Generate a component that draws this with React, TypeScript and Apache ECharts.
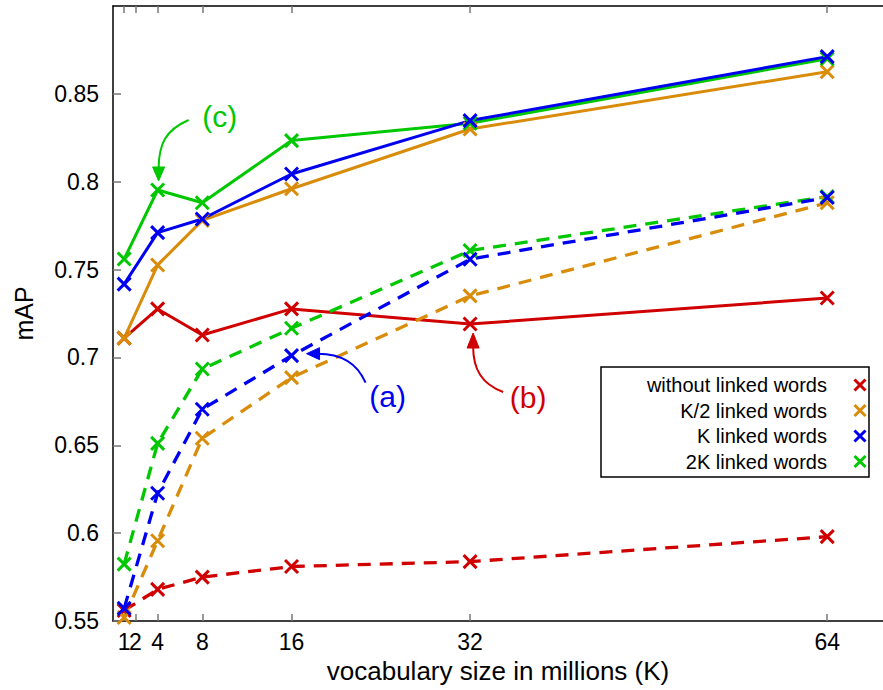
import React, { useEffect, useRef } from "react";
import * as echarts from "echarts";

const X_VALUES = [1, 4, 8, 16, 32, 64];
const X_TICKS = [1, 2, 4, 8, 16, 32, 64];
const X_LABELS_MAIN = [1, 4, 8, 16, 32, 64];
const X_LABELS_EXTRA = [2];
const Y_TICKS = [0.55, 0.6, 0.65, 0.7, 0.75, 0.8, 0.85];

const SERIES_NAMES = ["without linked words", "K/2 linked words", "K linked words", "2K linked words"];
const COLORS = ["#d00000", "#d98c0a", "#0000f0", "#00c800"];

// solid = one setting, dashed = other setting
const RED_SOLID = [0.711, 0.7276, 0.7128, 0.7276, 0.719, 0.7338];
const RED_DASHED = [0.556, 0.568, 0.575, 0.581, 0.5838, 0.598];
const ORANGE_SOLID = [0.711, 0.7526, 0.778, 0.796, 0.83, 0.8626];
const ORANGE_DASHED = [0.552, 0.5957, 0.654, 0.6885, 0.735, 0.788];
const BLUE_SOLID = [0.7417, 0.771, 0.7788, 0.8044, 0.8348, 0.8712];
const BLUE_DASHED = [0.5572, 0.6227, 0.6705, 0.701, 0.7559, 0.791];
const GREEN_SOLID = [0.756, 0.7953, 0.788, 0.8234, 0.8333, 0.87];
const GREEN_DASHED = [0.5824, 0.6511, 0.6934, 0.7166, 0.7608, 0.7915];

const FONT = "'Liberation Sans', Arial, Helvetica, sans-serif";
const CROSS = "path://M0 0L10 10M10 0L0 10";

function mkSeries(name: string, color: string, values: number[], dashed: boolean) {
  return {
    type: "line",
    name,
    data: X_VALUES.map((x, i) => [x, values[i]]),
    symbol: CROSS,
    symbolSize: 13,
    showSymbol: true,
    lineStyle: { color, width: dashed ? 3.3 : 3, type: dashed ? [13, 9] : "solid", cap: "butt" },
    itemStyle: { color, borderColor: color, borderWidth: 3 },
    emphasis: { disabled: true },
    z: 3,
  };
}

export default function App() {
  const ref = useRef<HTMLDivElement>(null);
  useEffect(() => {
    document.body.style.margin = "0";
    const chart = echarts.init(ref.current!, undefined, { renderer: "svg" });
    const axisCommon = {
      type: "value",
      min: 0,
      max: 69,
      splitLine: { show: false },
    };
    const labelStyle = {
      margin: 9,
      fontFamily: FONT,
      fontSize: 23,
      color: "#000",
      hideOverlap: false,
      showMinLabel: true,
      showMaxLabel: true,
    };
    const option: any = {
      animation: false,
      grid: { left: 113, top: 6, right: 0, bottom: 69 },
      xAxis: [
        {
          ...axisCommon,
          position: "bottom",
          name: "vocabulary size in millions (K)",
          nameLocation: "middle",
          nameGap: 37,
          nameTextStyle: { fontFamily: FONT, fontSize: 26, color: "#000" },
          axisLine: { show: true, onZero: false, lineStyle: { color: "#000", width: 1.5 } },
          axisTick: { show: true, inside: true, length: 7, customValues: X_TICKS, lineStyle: { color: "#777", width: 1.5 } },
          axisLabel: { show: true, customValues: X_LABELS_MAIN, ...labelStyle },
        },
        {
          ...axisCommon,
          position: "top",
          axisLine: { show: true, onZero: false, lineStyle: { color: "#000", width: 1.5 } },
          axisTick: { show: true, inside: true, length: 7, customValues: X_TICKS, lineStyle: { color: "#777", width: 1.5 } },
          axisLabel: { show: false },
        },
        {
          ...axisCommon,
          position: "bottom",
          offset: 0,
          axisLine: { show: false, onZero: false },
          axisTick: { show: false },
          axisLabel: { show: true, customValues: X_LABELS_EXTRA, ...labelStyle },
        },
      ],
      yAxis: {
        type: "value",
        min: 0.55,
        max: 0.9,
        interval: 0.05,
        name: "mAP",
        nameLocation: "middle",
        nameGap: 77,
        nameRotate: 90,
        nameTextStyle: { fontFamily: FONT, fontSize: 25, color: "#000" },
        splitLine: { show: false },
        axisLine: { show: true, onZero: false, lineStyle: { color: "#000", width: 1.5 } },
        axisTick: { show: true, inside: true, length: 8, customValues: Y_TICKS, lineStyle: { color: "#777", width: 1.5 } },
        axisLabel: {
          customValues: Y_TICKS,
          margin: 14,
          fontFamily: FONT,
          fontSize: 23,
          color: "#000",
          showMinLabel: true,
          formatter: (v: number) => String(+v.toFixed(2)),
        },
      },
      series: [
        mkSeries(SERIES_NAMES[0], COLORS[0], RED_SOLID, false),
        mkSeries(SERIES_NAMES[0] + " (dashed)", COLORS[0], RED_DASHED, true),
        mkSeries(SERIES_NAMES[1], COLORS[1], ORANGE_SOLID, false),
        mkSeries(SERIES_NAMES[1] + " (dashed)", COLORS[1], ORANGE_DASHED, true),
        mkSeries(SERIES_NAMES[3], COLORS[3], GREEN_SOLID, false),
        mkSeries(SERIES_NAMES[3] + " (dashed)", COLORS[3], GREEN_DASHED, true),
        mkSeries(SERIES_NAMES[2], COLORS[2], BLUE_SOLID, false),
        mkSeries(SERIES_NAMES[2] + " (dashed)", COLORS[2], BLUE_DASHED, true),
      ],
    };
    chart.setOption(option);

    const px = (x: number, y: number) =>
      chart.convertToPixel({ xAxisIndex: 0, yAxisIndex: 0 }, [x, y]) as number[];

    const graphics: any[] = [];
    // Legend box
    const lgX = 601, lgY = 367, lgW = 268, lgH = 110;
    graphics.push({
      type: "rect",
      shape: { x: lgX, y: lgY, width: lgW, height: lgH },
      style: { fill: "#fff", stroke: "#000", lineWidth: 1.5 },
      z: 10,
    });
    SERIES_NAMES.forEach((name, i) => {
      const cy = 385 + i * 25.5;
      graphics.push({
        type: "text",
        x: 827,
        y: cy,
        style: { text: name, fontFamily: FONT, fontSize: 20, fill: "#000", align: "right", verticalAlign: "middle" },
        z: 11,
      });
      const cx = 860, h = 5.5;
      graphics.push({
        type: "line",
        shape: { x1: cx - h, y1: cy - h, x2: cx + h, y2: cy + h },
        style: { stroke: COLORS[i], lineWidth: 3 },
        z: 11,
      });
      graphics.push({
        type: "line",
        shape: { x1: cx - h, y1: cy + h, x2: cx + h, y2: cy - h },
        style: { stroke: COLORS[i], lineWidth: 3 },
        z: 11,
      });
    });

    const annot = (
      anchor: number[],
      color: string,
      label: string,
      textOff: number[],
      curve: number[],
      head: number[]
    ) => {
      const [ax, ay] = anchor;
      graphics.push({
        type: "bezierCurve",
        shape: {
          x1: ax + curve[0], y1: ay + curve[1],
          cpx1: ax + curve[2], cpy1: ay + curve[3],
          cpx2: ax + curve[4], cpy2: ay + curve[5],
          x2: ax + curve[6], y2: ay + curve[7],
        },
        style: { stroke: color, lineWidth: 2, fill: null },
        z: 12,
      });
      graphics.push({
        type: "polygon",
        shape: {
          points: [
            [ax + head[0], ay + head[1]],
            [ax + head[2], ay + head[3]],
            [ax + head[4], ay + head[5]],
          ],
        },
        style: { fill: color, stroke: color, lineWidth: 1 },
        z: 12,
      });
      graphics.push({
        type: "text",
        x: ax + textOff[0],
        y: ay + textOff[1],
        style: { text: label, fontFamily: FONT, fontSize: 30, fill: color, align: "center", verticalAlign: "middle" },
        z: 12,
      });
    };

    // (a) -> K dashed at 16
    annot(px(16, BLUE_DASHED[3]), COLORS[2], "(a)", [96, 41],
      [74, 27, 66, 8, 50, -2, 26, -2],
      [15, -2, 28, -8, 28, 4]);
    // (b) -> without linked words solid at 32
    annot(px(32, RED_SOLID[4]), COLORS[0], "(b)", [58, 73],
      [33, 68, 12, 60, 3, 46, 3, 22],
      [3, 9, -3, 24, 9, 24]);
    // (c) -> 2K solid at 4
    annot(px(4, GREEN_SOLID[1]), COLORS[3], "(c)", [62, -73],
      [31, -70, 8, -60, 1, -46, 1, -21],
      [1, -9, -5, -23, 7, -23]);

    chart.setOption({ graphic: graphics });
    return () => chart.dispose();
  }, []);
  return <div ref={ref} style={{ position: "fixed", left: 0, top: 0, width: 883, height: 690, background: "#fff" }} />;
}
